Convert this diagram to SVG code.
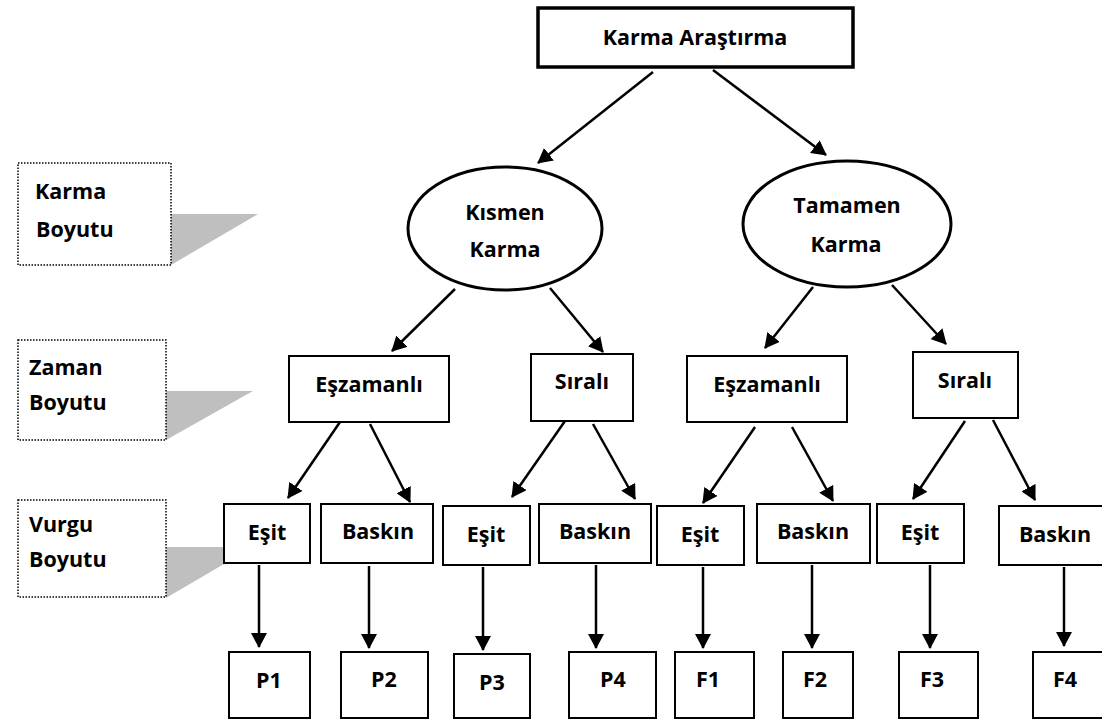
<svg xmlns="http://www.w3.org/2000/svg" width="1102" height="720" viewBox="0 0 1102 720">
<defs>
<marker id="ah" markerUnits="userSpaceOnUse" markerWidth="15" markerHeight="16" refX="14" refY="8" orient="auto">
<path d="M0,0 L15,8 L0,16 z" fill="#000"/>
</marker>
<style>
text{font-family:"Open Sans",Lato,"Liberation Sans",sans-serif;font-weight:bold;font-size:21.5px;fill:#000}
.c{text-anchor:middle}
.box{fill:#fff;stroke:#000;stroke-width:2}
.dot{fill:none;stroke:#000;stroke-width:1.5;stroke-dasharray:1.5 1.5}
.tri{fill:#bfbfbf}
.ln{stroke:#000;stroke-width:2.5;fill:none;marker-end:url(#ah)}
</style>
</defs>
<rect width="1102" height="720" fill="#fff"/>

<g id="legend-karma">
<polygon class="tri" points="171,214 258,214 171,265"/>
<rect class="dot" x="18" y="163" width="153" height="102"/>
<text x="35" y="199">Karma</text>
<text x="36" y="237">Boyutu</text>
</g>
<g id="legend-zaman">
<polygon class="tri" points="166,391 253,391 166,440"/>
<rect class="dot" x="18" y="340" width="148" height="100"/>
<text x="29" y="375">Zaman</text>
<text x="29" y="410">Boyutu</text>
</g>
<g id="legend-vurgu">
<polygon class="tri" points="166,547 253,547 166,598"/>
<rect class="dot" x="18" y="500" width="148" height="97"/>
<text x="29" y="532">Vurgu</text>
<text x="29" y="567">Boyutu</text>
</g>

<g id="connectors">
<line class="ln" x1="653" y1="72" x2="538" y2="163"/>
<line class="ln" x1="713" y1="70" x2="826" y2="155"/>
<line class="ln" x1="455" y1="289" x2="392" y2="351"/>
<line class="ln" x1="550" y1="288" x2="603" y2="352"/>
<line class="ln" x1="813" y1="287" x2="765" y2="348"/>
<line class="ln" x1="892" y1="285" x2="946" y2="344"/>
<line class="ln" x1="340" y1="422" x2="288" y2="498"/>
<line class="ln" x1="370" y1="424" x2="410" y2="502"/>
<line class="ln" x1="565" y1="421" x2="512" y2="497"/>
<line class="ln" x1="593" y1="424" x2="635" y2="499"/>
<line class="ln" x1="755" y1="427" x2="703" y2="503"/>
<line class="ln" x1="792" y1="427" x2="833" y2="501"/>
<line class="ln" x1="965" y1="421" x2="913" y2="499"/>
<line class="ln" x1="993" y1="420" x2="1035" y2="500"/>
<line class="ln" x1="259" y1="565" x2="259" y2="647"/>
<line class="ln" x1="369" y1="566" x2="369" y2="648"/>
<line class="ln" x1="483" y1="567" x2="483" y2="650"/>
<line class="ln" x1="596" y1="565" x2="596" y2="648"/>
<line class="ln" x1="703" y1="567" x2="703" y2="648"/>
<line class="ln" x1="812" y1="565" x2="812" y2="648"/>
<line class="ln" x1="930" y1="565" x2="930" y2="648"/>
<line class="ln" x1="1064" y1="567" x2="1064" y2="646"/>
</g>

<g id="n-root">
<rect x="538" y="8" width="315" height="59" fill="#fff" stroke="#000" stroke-width="3.5"/>
<text class="c" x="695" y="45">Karma Araştırma</text>
</g>
<g id="n-kismen">
<ellipse cx="505" cy="228.5" rx="97" ry="61.5" fill="#fff" stroke="#000" stroke-width="3"/>
<text class="c" x="505" y="220">Kısmen</text>
<text class="c" x="505" y="257">Karma</text>
</g>
<g id="n-tamamen">
<ellipse cx="847" cy="224" rx="104" ry="63" fill="#fff" stroke="#000" stroke-width="3"/>
<text class="c" x="847" y="213">Tamamen</text>
<text class="c" x="846" y="252">Karma</text>
</g>

<g id="n-eszamanli1"><rect class="box" x="289" y="356" width="160" height="66"/><text class="c" x="369" y="392">Eşzamanlı</text></g>
<g id="n-sirali1"><rect class="box" x="531" y="354" width="102" height="67"/><text class="c" x="582" y="389">Sıralı</text></g>
<g id="n-eszamanli2"><rect class="box" x="687" y="356" width="160" height="66"/><text class="c" x="767" y="392">Eşzamanlı</text></g>
<g id="n-sirali2"><rect class="box" x="913" y="352" width="105" height="66"/><text class="c" x="965" y="388">Sıralı</text></g>

<g id="n-esit1"><rect class="box" x="224" y="504" width="86" height="59"/><text class="c" x="267" y="540">Eşit</text></g>
<g id="n-baskin1"><rect class="box" x="321" y="504" width="112" height="59"/><text class="c" x="378" y="539">Baskın</text></g>
<g id="n-esit2"><rect class="box" x="443" y="506" width="87" height="59"/><text class="c" x="486" y="542">Eşit</text></g>
<g id="n-baskin2"><rect class="box" x="539" y="504" width="112" height="59"/><text class="c" x="595" y="539">Baskın</text></g>
<g id="n-esit3"><rect class="box" x="657" y="506" width="87" height="59"/><text class="c" x="700" y="542">Eşit</text></g>
<g id="n-baskin3"><rect class="box" x="757" y="504" width="113" height="59"/><text class="c" x="813" y="539">Baskın</text></g>
<g id="n-esit4"><rect class="box" x="877" y="504" width="87" height="59"/><text class="c" x="920" y="540">Eşit</text></g>
<g id="n-baskin4"><rect class="box" x="999" y="506" width="114" height="59"/><text class="c" x="1055" y="542">Baskın</text></g>

<g id="n-p1"><rect class="box" x="229" y="652" width="81" height="66"/><text class="c" x="269" y="688">P1</text></g>
<g id="n-p2"><rect class="box" x="341" y="652" width="87" height="66"/><text class="c" x="384" y="687">P2</text></g>
<g id="n-p3"><rect class="box" x="454" y="654" width="76" height="64"/><text class="c" x="492" y="690">P3</text></g>
<g id="n-p4"><rect class="box" x="569" y="652" width="87" height="66"/><text class="c" x="613" y="687">P4</text></g>
<g id="n-f1"><rect class="box" x="675" y="652" width="79" height="66"/><text class="c" x="708" y="687">F1</text></g>
<g id="n-f2"><rect class="box" x="783" y="652" width="70" height="66"/><text class="c" x="815" y="687">F2</text></g>
<g id="n-f3"><rect class="box" x="899" y="652" width="79" height="66"/><text class="c" x="932" y="687">F3</text></g>
<g id="n-f4"><rect class="box" x="1033" y="652" width="80" height="66"/><text class="c" x="1065" y="687">F4</text></g>
</svg>
